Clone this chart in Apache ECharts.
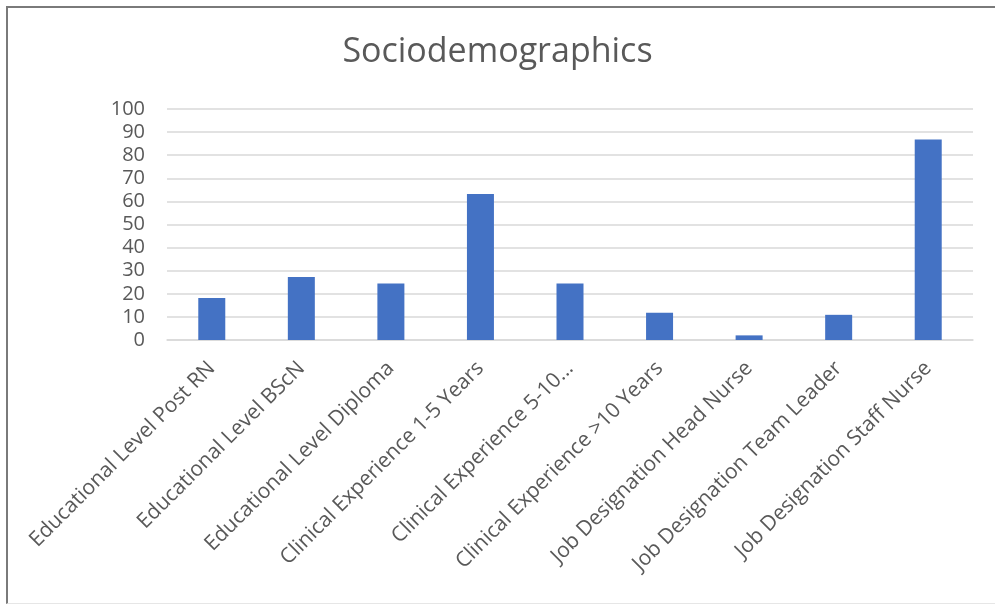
<!DOCTYPE html>
<html>
<head>
<meta charset="utf-8">
<title>Sociodemographics</title>
<script src="https://cdn.jsdelivr.net/npm/echarts@6/dist/echarts.min.js"></script>
<style>
  html, body { margin: 0; padding: 0; background: #ffffff; }
  #frame {
    position: absolute; left: 6px; top: 6px; width: 995px; height: 598px;
    border-top: 2px solid #7a7a7a; border-left: 2px solid #7a7a7a;
    border-bottom: 1px solid #e6e6e6; box-sizing: border-box;
  }
  #chart { position: absolute; left: 0; top: 0; width: 995px; height: 606px; }
</style>
</head>
<body>
<div id="frame"></div>
<div id="chart"></div>
<script>
// Category labels as printed under each bar
const categories = [
  'Educational Level Post RN',
  'Educational Level BScN',
  'Educational Level Diploma',
  'Clinical Experience 1-5 Years',
  'Clinical Experience 5-10...',
  'Clinical Experience >10 Years',
  'Job Designation Head Nurse',
  'Job Designation Team Leader',
  'Job Designation Staff Nurse'
];

// Percentage of respondents in each group
const values = [18.2, 27.3, 24.5, 63.2, 24.5, 11.8, 2.0, 10.9, 86.8];

// Value axis range and step
const yMin = 0;
const yMax = 100;
const yStep = 10;

const chart = echarts.init(document.getElementById('chart'), null, { renderer: 'canvas' });

chart.setOption({
  animation: false,
  backgroundColor: 'transparent',
  title: {
    text: 'Sociodemographics',
    left: 'center',
    top: 30,
    textStyle: {
      fontFamily: 'Open Sans',
      fontWeight: 'normal',
      fontSize: 34,
      color: '#595959'
    }
  },
  grid: {
    left: 167,
    right: 22,
    top: 109,
    bottom: 266,
    containLabel: false
  },
  xAxis: {
    type: 'category',
    data: categories,
    axisLine: { show: true, lineStyle: { color: '#d9d9d9', width: 1.5 } },
    axisTick: { show: false },
    axisLabel: {
      interval: 0,
      rotate: 45,
      margin: 25,
      fontFamily: 'Open Sans',
      fontSize: 21,
      color: '#595959'
    }
  },
  yAxis: {
    type: 'value',
    min: yMin,
    max: yMax,
    interval: yStep,
    axisLine: { show: false },
    axisTick: { show: false },
    splitLine: { lineStyle: { color: '#d9d9d9', width: 1.5 } },
    axisLabel: {
      margin: 22,
      fontFamily: 'Open Sans',
      fontSize: 20,
      color: '#595959'
    }
  },
  series: [{
    type: 'bar',
    data: values,
    barWidth: 27,
    itemStyle: { color: '#4472c4' }
  }]
});
</script>
</body>
</html>
